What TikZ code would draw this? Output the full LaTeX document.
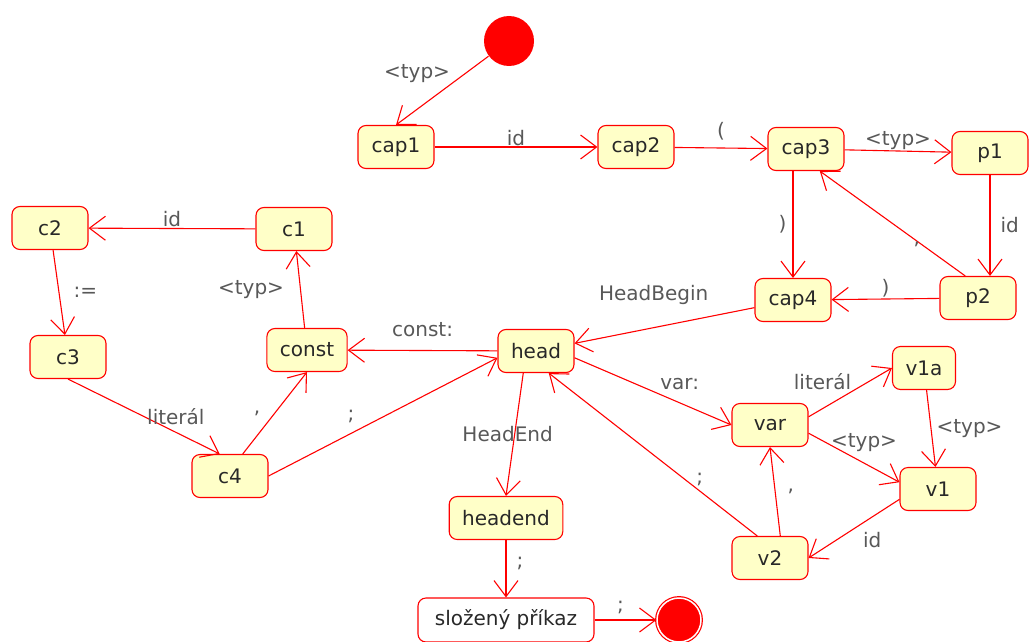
\documentclass[tikz,border=0pt]{standalone}
\usepackage{fontspec}
\setmainfont{DejaVu Sans}
\usetikzlibrary{arrows.meta}
\definecolor{statefill}{RGB}{255,255,200}
\definecolor{labelgray}{RGB}{88,88,88}
\definecolor{textgray}{RGB}{40,40,40}

\begin{document}
\begin{tikzpicture}[
    x=1pt,y=-1pt,red,
    ->,>={Straight Barb[length=16pt,width=24pt]},line width=1.1pt,
    font=\fontsize{20}{24}\selectfont,
  state/.style={rectangle,rounded corners=8pt,fill=statefill,draw=red,
    minimum width=76pt,minimum height=43pt,inner xsep=13pt,text=textgray},
  action/.style={state,fill=white,minimum width=176pt,minimum height=44pt},
  startdot/.style={circle,fill=red,draw=none,minimum size=50pt,inner sep=0pt},
  enddot/.style={circle,fill=red,draw=red,double=white,double distance=1.5pt,
    line width=1.2pt,minimum size=44pt,inner sep=0pt},
  lab/.style={text=labelgray,inner sep=1pt},
]
  \useasboundingbox (0,0) rectangle (1030,642);

  \node[startdot] (init) at (509,41) {};
  \node[state] (cap1) at (396,147) {cap1};
  \node[state] (cap2) at (636,147) {cap2};
  \node[state] (cap3) at (806,149) {cap3};
  \node[state] (p1) at (990,153) {p1};
  \node[state] (cap4) at (793,300) {cap4};
  \node[state] (p2) at (978,298) {p2};
  \node[state] (c2) at (50,228) {c2};
  \node[state] (c1) at (294,229) {c1};
  \node[state] (c3) at (68,357) {c3};
  \node[state] (const) at (307,350) {const};
  \node[state] (c4) at (230,476) {c4};
  \node[state] (head) at (536,351) {head};
  \node[state] (var) at (770,425) {var};
  \node[state,minimum width=63pt] (v1a) at (924,368) {v1a};
  \node[state] (v1) at (938,489) {v1};
  \node[state] (v2) at (770,558) {v2};
  \node[state] (headend) at (506,518) {headend};
  \node[action] (block) at (506,620) {složený příkaz};
  \node[enddot] (final) at (679,620) {};

  \draw (init) to
    node[lab,above left,pos=0.4]{<typ>} (cap1.north);
  \draw (cap1) to node[lab,above]{id} (cap2);
  \draw (cap2) to node[lab,above=6pt]{(} (cap3);
  \draw (cap3) to node[lab,above]{<typ>} (p1);
  \draw (p1) to node[lab,right=9pt]{id} (p1 |- p2.north);
  \draw (p2.120) to
    node[lab,left,pos=0.3]{,} (cap3.-58);
  \draw (cap4.north |- cap3.south) to
    node[lab,left=5pt]{)} (cap4.north);
  \draw (p2) to node[lab,above]{)} (cap4);
  \draw (cap4) to
    node[lab,above=21pt,pos=0.56]{HeadBegin} (head);

  \draw (head) to node[lab,above=12pt]{const:} (const);
  \draw (const) to node[lab,left=15pt]{<typ>} (c1);
  \draw (c1) to node[lab,above]{id} (c2);
  \draw (c2) to node[lab,right=13pt]{:=} (c3);
  \draw (c3.south) to
    node[lab,xshift=32pt]{literál} (c4.115);
  \draw (c4.60) to node[lab,left=13pt]{,} (const.south);
  \draw (c4.east) to
    node[lab,above=9pt,pos=0.36]{;} (head.-170);

  \draw (head.-120) to
    node[lab,xshift=-7pt]{HeadEnd} (headend.north);
  \draw (headend) to node[lab,right=9pt,pos=0.4]{;} (block);
  \draw (block) to node[lab,above=5pt,pos=0.42]{;} (final);

  \draw (head.-10) to
    node[lab,above=11pt,pos=0.67]{var:} (var.west);
  \draw (v2.120) to
    node[lab,above right,pos=0.3]{;} (head.-60);
  \draw (var.12) to
    node[lab,above left,pos=0.53]{literál} (v1a.west);
  \draw (var.-12) to
    node[lab,above=10pt,pos=0.61]{<typ>} (v1.170);
  \draw (v1a) to node[lab,right=4pt]{<typ>} (v1);
  \draw (v1.-165) to
    node[lab,below=14pt,pos=0.3]{id} (v2.east);
  \draw (v2.65) to node[lab,right=11pt]{,} (var.south);
\end{tikzpicture}
\end{document}
